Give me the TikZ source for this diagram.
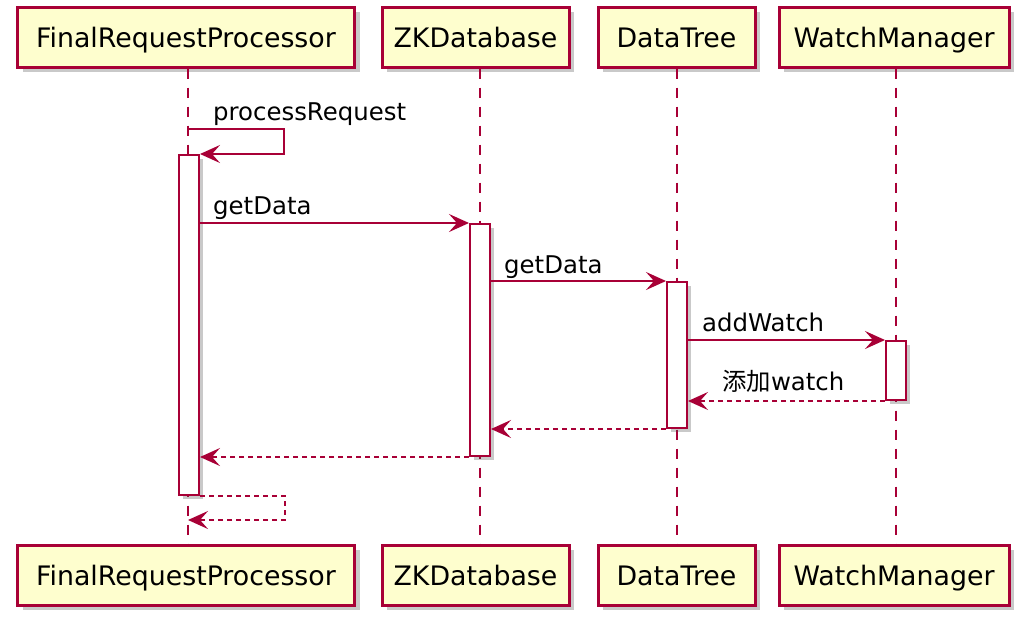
\documentclass[tikz,border=0pt]{standalone}
\usepackage{fontspec}
\setmainfont{DejaVu Sans}
\newfontfamily\cjk{Noto Sans CJK SC}
\usetikzlibrary{arrows.meta,shadows}
\definecolor{umlred}{HTML}{A80036}
\definecolor{umlfill}{HTML}{FEFECE}

\begin{document}
\begin{tikzpicture}[x=1pt,y=-1pt,
	part/.style={draw=umlred,fill=umlfill,line width=3pt,minimum height=60pt,inner xsep=10pt,
		text height=24pt,text depth=4pt,font=\fontsize{26.8}{32}\selectfont,
		drop shadow={shadow xshift=5pt,shadow yshift=-5pt,opacity=0.3,fill=black!70}},
	life/.style={draw=umlred,line width=2pt,dash pattern=on 10pt off 9pt},
	act/.style={draw=umlred,fill=white,line width=2pt,minimum width=20pt,inner sep=0pt,
		drop shadow={shadow xshift=4pt,shadow yshift=-4pt,opacity=0.3,fill=black!70}},
	msg/.style={draw=umlred,line width=2pt,-{Stealth[length=20pt,width=18pt,inset=8pt]}},
	ret/.style={msg,dash pattern=on 5pt off 4pt},
	lbl/.style={font=\fontsize{24.4}{29}\selectfont,anchor=base west,inner sep=0pt}]
	\useasboundingbox (0,0) rectangle (1028,625);
	% participants
	\node[part,minimum width=337pt] (frpT) at (186,37) {FinalRequestProcessor};
	\node[part,minimum width=187pt] (zkT) at (475.5,37) {ZKDatabase};
	\node[part,minimum width=157pt] (dtT) at (676.5,37) {DataTree};
	\node[part,minimum width=230pt] (wmT) at (894,37) {WatchManager};
	\node[part,minimum width=337pt] (frpB) at (186,575) {FinalRequestProcessor};
	\node[part,minimum width=187pt] (zkB) at (475.5,575) {ZKDatabase};
	\node[part,minimum width=157pt] (dtB) at (676.5,575) {DataTree};
	\node[part,minimum width=230pt] (wmB) at (894,575) {WatchManager};
	\draw[life] (frpT.south -| 188,0) -- (frpB.north -| 188,0);
	\draw[life] (zkT.south -| 480,0) -- (zkB.north -| 480,0);
	\draw[life] (dtT.south -| 677,0) -- (dtB.north -| 677,0);
	\draw[life] (wmT.south -| 896,0) -- (wmB.north -| 896,0);
	% activations
	\node[act,minimum height=340pt] (frpA) at (189,325) {};
	\node[act,minimum height=232pt] (zkA) at (480,340) {};
	\node[act,minimum height=146pt] (dtA) at (677,355) {};
	\node[act,minimum height=59pt] (wmA) at (896,370.5) {};
	\coordinate (selfOut) at (188,129);
	\coordinate (selfBack) at (188,520);
	% messages
	\draw[msg] (selfOut) -- ++(96,0) |- (frpA.north east);
	\node[lbl] (m1) at (213,120) {processRequest};
	\draw[msg] (frpA.east |- zkA.north west) -- (zkA.north west);
	\node[lbl] (m2) at (213,214) {getData};
	\draw[msg] (zkA.east |- dtA.north west) -- (dtA.north west);
	\node[lbl] (m3) at (504,273) {getData};
	\draw[msg] (dtA.east |- wmA.north west) -- (wmA.north west);
	\node[lbl] (m4) at (702,331) {addWatch};
	\draw[ret] (wmA.south west) -- (dtA.east |- wmA.south west);
	\node[lbl] (m5) at (722,390) {{\cjk 添加}watch};
	\draw[ret] (dtA.south west) -- (zkA.east |- dtA.south west);
	\draw[ret] (zkA.south west) -- (frpA.east |- zkA.south west);
	\draw[ret] (frpA.south east) -- ++(85,0) |- (selfBack);
\end{tikzpicture}
\end{document}
